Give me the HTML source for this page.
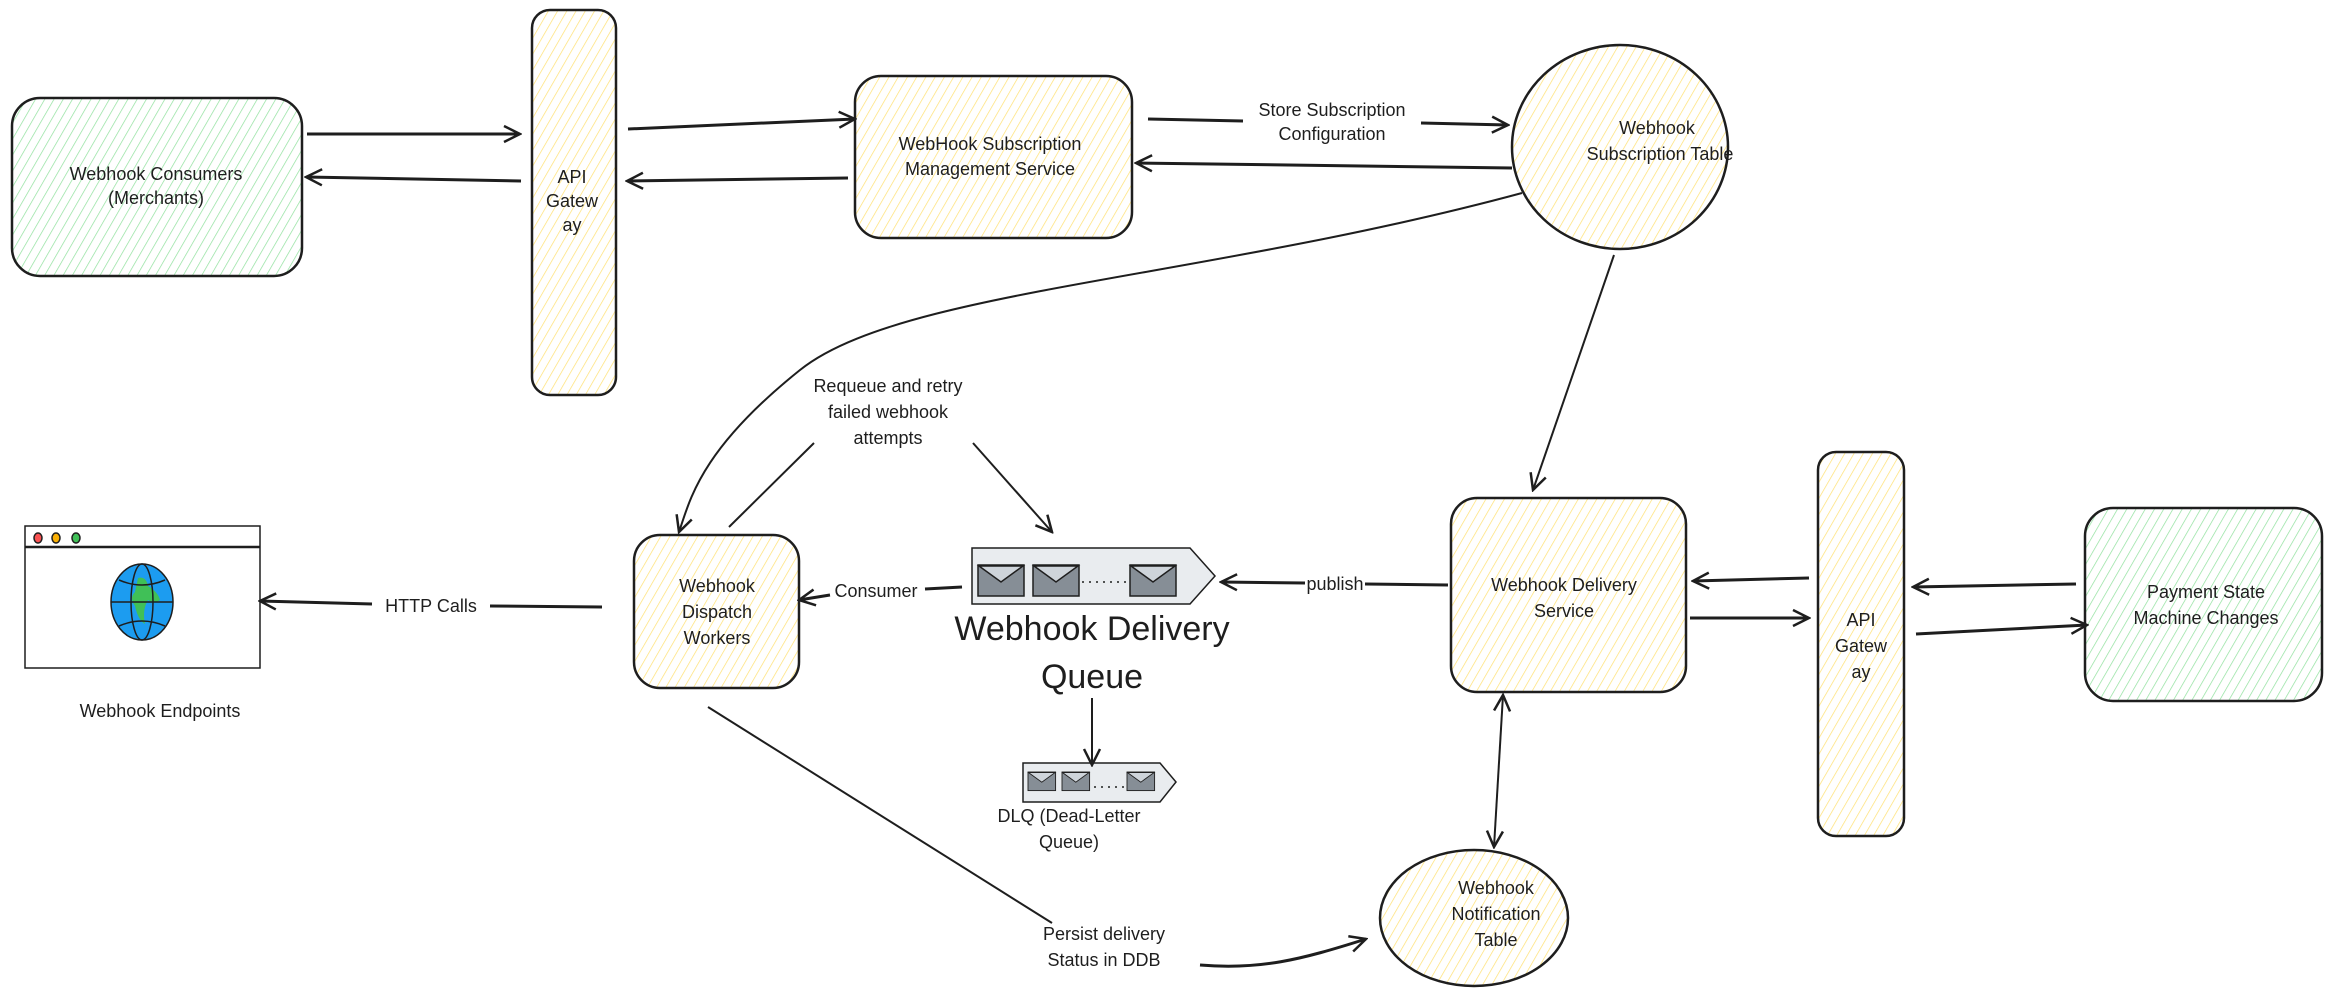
<!DOCTYPE html>
<html><head><meta charset="utf-8"><style>
html,body{margin:0;padding:0;background:#fff;}
svg{display:block;}
text{font-family:"Liberation Sans",sans-serif;fill:#1e1e1e;text-anchor:middle;}
</style></head><body>
<svg width="2329" height="996" viewBox="0 0 2329 996" xmlns="http://www.w3.org/2000/svg">
<defs>
<pattern id="hy" width="8" height="8" patternUnits="userSpaceOnUse" patternTransform="rotate(30)">
<line x1="0" y1="0" x2="0" y2="8" stroke="#ffe070" stroke-width="1.4"/></pattern>
<pattern id="hg" width="8" height="8" patternUnits="userSpaceOnUse" patternTransform="rotate(30)">
<line x1="0" y1="0" x2="0" y2="8" stroke="#8fe09c" stroke-width="1.4"/></pattern>
<marker id="ar" viewBox="0 0 20 20" refX="18" refY="10" markerWidth="20" markerHeight="20" markerUnits="userSpaceOnUse" orient="auto">
<path d="M2 2 L18 10 L2 18" fill="none" stroke="#1e1e1e" stroke-width="2.5"/></marker>
<marker id="arS" viewBox="0 0 20 20" refX="2" refY="10" markerWidth="20" markerHeight="20" markerUnits="userSpaceOnUse" orient="auto">
<path d="M18 2 L2 10 L18 18" fill="none" stroke="#1e1e1e" stroke-width="2.5"/></marker>
<g id="env"><rect x="0" y="0" width="46" height="31" fill="#868e96" stroke="#1e1e1e" stroke-width="1.5"/><path d="M1 1 L23 17 L45 1 Z" fill="#ced4da" stroke="#1e1e1e" stroke-width="1.5"/></g>
</defs>

<g stroke="#1e1e1e" stroke-width="2.5">
<rect x="12" y="98" width="290" height="178" rx="28" fill="url(#hg)"/>
<rect x="532" y="10" width="84" height="385" rx="18" fill="url(#hy)"/>
<rect x="855" y="76" width="277" height="162" rx="26" fill="url(#hy)"/>
<ellipse cx="1620" cy="147" rx="108" ry="102" fill="url(#hy)"/>
<rect x="634" y="535" width="165" height="153" rx="26" fill="url(#hy)"/>
<rect x="1451" y="498" width="235" height="194" rx="26" fill="url(#hy)"/>
<rect x="1818" y="452" width="86" height="384" rx="18" fill="url(#hy)"/>
<rect x="2085" y="508" width="237" height="193" rx="28" fill="url(#hg)"/>
<ellipse cx="1474" cy="918" rx="94" ry="68" fill="url(#hy)"/>
</g>

<!-- browser -->
<g stroke="#1e1e1e" stroke-width="1.5">
<rect x="25" y="526" width="235" height="142" fill="#fff"/>
<line x1="25" y1="547" x2="260" y2="547" stroke-width="2.5"/>
<ellipse cx="38" cy="538" rx="4" ry="5" fill="#fa5252"/>
<ellipse cx="56" cy="538" rx="4" ry="5" fill="#fab005"/>
<ellipse cx="76" cy="538" rx="4" ry="5" fill="#40c057"/>
<ellipse cx="142" cy="602" rx="31" ry="38" fill="#1c9cf0"/>
<path d="M138 578 q8 -2 10 8 q10 6 12 14 q-6 4 -12 0 q-6 10 -3 24 q-7 -4 -10 -18 q-6 -8 0 -14 z" fill="#40c057" stroke="none"/>
<ellipse cx="142" cy="602" rx="11" ry="38" fill="none"/>
<line x1="111" y1="602" x2="173" y2="602"/>
<path d="M119 580 q23 10 46 0 M119 626 q23 -10 46 0" fill="none"/>
</g>

<!-- queue -->
<g stroke="#1e1e1e" stroke-width="1.5">
<path d="M972 548 L1190 548 L1215 576 L1190 604 L972 604 Z" fill="#e9ecef"/>
<use href="#env" x="978" y="565"/><use href="#env" x="1033" y="565"/><use href="#env" x="1130" y="565"/>
<line x1="1082" y1="582" x2="1127" y2="582" stroke-dasharray="2 5"/>
<path d="M1023 763 L1160 763 L1176 782 L1160 802 L1023 802 Z" fill="#e9ecef"/>
<g transform="translate(1028,772) scale(0.6)"><use href="#env"/></g>
<g transform="translate(1062,772) scale(0.6)"><use href="#env"/></g>
<g transform="translate(1127,772) scale(0.6)"><use href="#env"/></g>
<line x1="1094" y1="787" x2="1124" y2="787" stroke-dasharray="2 5"/>
</g>

<!-- connectors -->
<g stroke="#1e1e1e" stroke-width="3" fill="none">
<line x1="307" y1="134" x2="520" y2="134" marker-end="url(#ar)"/>
<line x1="521" y1="181" x2="306" y2="177" marker-end="url(#ar)"/>
<line x1="628" y1="129" x2="855" y2="119" marker-end="url(#ar)"/>
<line x1="848" y1="178" x2="627" y2="181" marker-end="url(#ar)"/>
<line x1="1148" y1="119" x2="1243" y2="121"/>
<line x1="1421" y1="123" x2="1508" y2="125" marker-end="url(#ar)"/>
<line x1="1512" y1="168" x2="1136" y2="163" marker-end="url(#ar)"/>
<line x1="1809" y1="578" x2="1693" y2="581" marker-end="url(#ar)"/>
<line x1="1690" y1="618" x2="1809" y2="618" marker-end="url(#ar)"/>
<line x1="2076" y1="584" x2="1913" y2="587" marker-end="url(#ar)"/>
<line x1="1916" y1="634" x2="2087" y2="625" marker-end="url(#ar)"/>
<line x1="1448" y1="585" x2="1365" y2="584"/>
<line x1="1305" y1="583" x2="1221" y2="582" marker-end="url(#ar)"/>
<line x1="962" y1="587" x2="925" y2="589"/>
<line x1="830" y1="595" x2="799" y2="600" marker-end="url(#ar)"/>
<line x1="602" y1="607" x2="490" y2="606"/>
<line x1="372" y1="604" x2="260" y2="601" marker-end="url(#ar)"/>
</g>
<g stroke="#1e1e1e" stroke-width="2" fill="none">
<path d="M1522 193 C1200 280 900 290 800 370 C700 450 690 500 679 532" marker-end="url(#ar)"/>
<line x1="1614" y1="255" x2="1533" y2="490" marker-end="url(#ar)"/>
<line x1="814" y1="443" x2="729" y2="527"/>
<line x1="973" y1="443" x2="1052" y2="532" marker-end="url(#ar)"/>
<line x1="1092" y1="698" x2="1092" y2="765" marker-end="url(#ar)"/>
<line x1="1503" y1="695" x2="1494" y2="847" marker-start="url(#arS)" marker-end="url(#ar)"/>
<line x1="708" y1="707" x2="1052" y2="923"/>
<path d="M1200 965 C1260 970 1300 960 1366 939" stroke-width="3" marker-end="url(#ar)"/>
</g>

<g font-size="18">
<text x="156" y="180">Webhook Consumers</text><text x="156" y="204">(Merchants)</text>
<text x="572" y="183">API</text><text x="572" y="207">Gatew</text><text x="572" y="231">ay</text>
<text x="990" y="150">WebHook Subscription</text><text x="990" y="175">Management Service</text>
<text x="1332" y="116">Store Subscription</text><text x="1332" y="140">Configuration</text>
<text x="1657" y="134">Webhook</text><text x="1660" y="160">Subscription Table</text>
<text x="888" y="392">Requeue and retry</text><text x="888" y="418">failed webhook</text><text x="888" y="444">attempts</text>
<text x="717" y="592">Webhook</text><text x="717" y="618">Dispatch</text><text x="717" y="644">Workers</text>
<text x="431" y="612">HTTP Calls</text>
<text x="876" y="597">Consumer</text>
<text x="1335" y="590">publish</text>
<text x="160" y="717">Webhook Endpoints</text>
<text x="1069" y="822">DLQ (Dead-Letter</text><text x="1069" y="848">Queue)</text>
<text x="1564" y="591">Webhook Delivery</text><text x="1564" y="617">Service</text>
<text x="1861" y="626">API</text><text x="1861" y="652">Gatew</text><text x="1861" y="678">ay</text>
<text x="2206" y="598">Payment State</text><text x="2206" y="624">Machine Changes</text>
<text x="1496" y="894">Webhook</text><text x="1496" y="920">Notification</text><text x="1496" y="946">Table</text>
<text x="1104" y="940">Persist delivery</text><text x="1104" y="966">Status in DDB</text>
</g>
<text x="1092" y="640" font-size="34">Webhook Delivery</text>
<text x="1092" y="688" font-size="34">Queue</text>
</svg>
</body></html>
